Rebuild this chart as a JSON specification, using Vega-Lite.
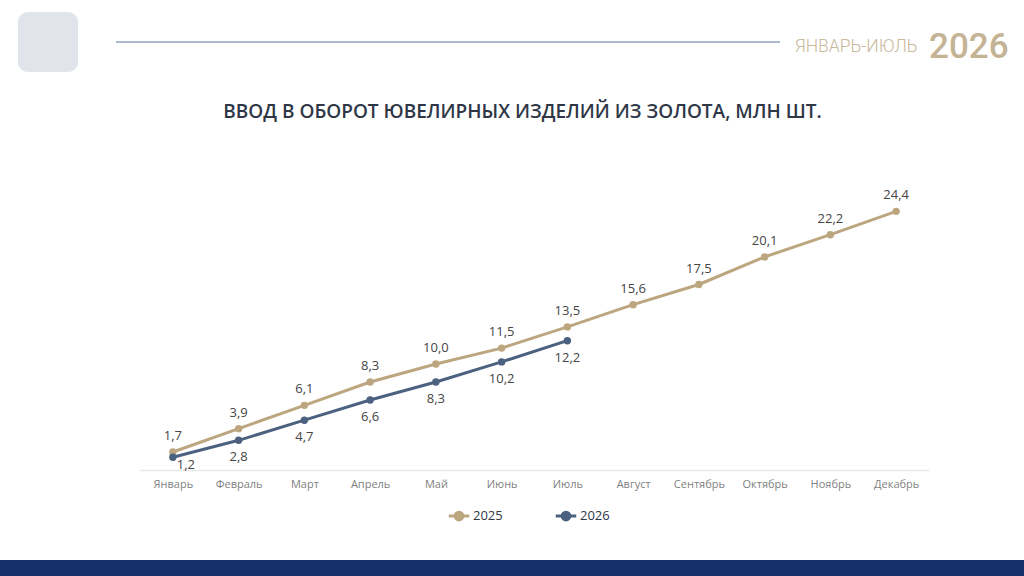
{
  "$schema": "https://vega.github.io/schema/vega-lite/v6.json",
  "autosize": {"type": "none"},
  "width": 789,
  "height": 265,
  "padding": {"left": 140, "top": 205, "right": 95, "bottom": 106},
  "background": "white",
  "title": {
    "text": "ВВОД В ОБОРОТ ЮВЕЛИРНЫХ ИЗДЕЛИЙ ИЗ ЗОЛОТА, МЛН ШТ.",
    "font": "Open Sans",
    "fontSize": 19,
    "fontWeight": 600,
    "color": "#2f3747",
    "anchor": "middle",
    "frame": "group",
    "offset": -110,
    "dx": -12
  },
  "data": {
    "values": [
      {"month": "Январь", "year": "2025", "value": 1.7},
      {"month": "Февраль", "year": "2025", "value": 3.9},
      {"month": "Март", "year": "2025", "value": 6.1},
      {"month": "Апрель", "year": "2025", "value": 8.3},
      {"month": "Май", "year": "2025", "value": 10.0},
      {"month": "Июнь", "year": "2025", "value": 11.5},
      {"month": "Июль", "year": "2025", "value": 13.5},
      {"month": "Август", "year": "2025", "value": 15.6},
      {"month": "Сентябрь", "year": "2025", "value": 17.5},
      {"month": "Октябрь", "year": "2025", "value": 20.1},
      {"month": "Ноябрь", "year": "2025", "value": 22.2},
      {"month": "Декабрь", "year": "2025", "value": 24.4},
      {"month": "Январь", "year": "2026", "value": 1.2},
      {"month": "Февраль", "year": "2026", "value": 2.8},
      {"month": "Март", "year": "2026", "value": 4.7},
      {"month": "Апрель", "year": "2026", "value": 6.6},
      {"month": "Май", "year": "2026", "value": 8.3},
      {"month": "Июнь", "year": "2026", "value": 10.2},
      {"month": "Июль", "year": "2026", "value": 12.2}
    ]
  },
  "encoding": {
    "x": {
      "field": "month",
      "type": "ordinal",
      "sort": ["Январь", "Февраль", "Март", "Апрель", "Май", "Июнь", "Июль", "Август", "Сентябрь", "Октябрь", "Ноябрь", "Декабрь"],
      "scale": {"type": "point", "padding": 0.5},
      "title": null,
      "axis": {
        "labelAngle": 0,
        "ticks": false,
        "domainColor": "#e8e8e8",
        "domainWidth": 1.5,
        "labelFont": "Open Sans",
        "labelFontSize": 11,
        "labelColor": "#7f7f7f",
        "labelPadding": 8
      }
    },
    "y": {
      "field": "value",
      "type": "quantitative",
      "scale": {"domain": [0, 25], "nice": false},
      "axis": null
    },
    "color": {
      "field": "year",
      "type": "nominal",
      "scale": {"domain": ["2025", "2026"], "range": ["#bca67f", "#4c617f"]},
      "legend": {
        "title": null,
        "orient": "none",
        "direction": "horizontal",
        "legendX": 307,
        "legendY": 299,
        "symbolType": "M -1 0 L 1 0 M -0.38 0 A 0.38 0.38 0 1 1 0.38 0 A 0.38 0.38 0 1 1 -0.38 0",
        "symbolSize": 420,
        "symbolStrokeWidth": 3,
        "labelFont": "Open Sans",
        "labelFontSize": 13,
        "labelColor": "#2f3747",
        "labelOffset": 2,
        "columnPadding": 46,
        "encode": {
          "symbols": {
            "update": {
              "fill": {"scale": "color", "field": "value"},
              "stroke": {"scale": "color", "field": "value"}
            }
          }
        }
      }
    }
  },
  "layer": [
    {
      "mark": {"type": "line", "strokeWidth": 3},
      "encoding": {}
    },
    {
      "mark": {"type": "circle", "size": 55, "opacity": 1},
      "encoding": {}
    },
    {
      "transform": [{"filter": "datum.year === '2025'"}],
      "mark": {"type": "text", "dy": -16, "font": "Open Sans", "fontSize": 13},
      "encoding": {
        "text": {"field": "value", "type": "quantitative", "format": ".1f"},
        "color": {"value": "#454545"}
      }
    },
    {
      "transform": [{"filter": "datum.year === '2026' && datum.month !== 'Январь'"}],
      "mark": {"type": "text", "dy": 17, "font": "Open Sans", "fontSize": 13},
      "encoding": {
        "text": {"field": "value", "type": "quantitative", "format": ".1f"},
        "color": {"value": "#454545"}
      }
    },
    {
      "transform": [{"filter": "datum.year === '2026' && datum.month === 'Январь'"}],
      "mark": {"type": "text", "dx": 13, "dy": 8, "font": "Open Sans", "fontSize": 13},
      "encoding": {
        "text": {"field": "value", "type": "quantitative", "format": ".1f"},
        "color": {"value": "#454545"}
      }
    },
    {
      "data": {"values": [{}]},
      "mark": {"type": "rect", "cornerRadius": 10},
      "encoding": {
        "x": {"value": -122}, "x2": {"value": -62},
        "y": {"value": -193}, "y2": {"value": -133},
        "color": {"value": "#e1e4ea"}
      }
    },
    {
      "data": {"values": [{}]},
      "mark": {"type": "rule", "strokeWidth": 1.2},
      "encoding": {
        "x": {"value": -24}, "x2": {"value": 640},
        "y": {"value": -163},
        "color": {"value": "#5a73a0"}
      }
    },
    {
      "data": {"values": [{}]},
      "mark": {"type": "text", "text": "ЯНВАРЬ-ИЮЛЬ", "font": "Roboto", "fontSize": 17.5, "fontWeight": 300, "align": "left", "baseline": "alphabetic"},
      "encoding": {
        "x": {"value": 655}, "y": {"value": -153},
        "color": {"value": "#c8b89c"}
      }
    },
    {
      "data": {"values": [{}]},
      "mark": {"type": "text", "text": "2026", "font": "Roboto", "fontSize": 35, "fontWeight": 500, "align": "left", "baseline": "alphabetic"},
      "encoding": {
        "x": {"value": 789}, "y": {"value": -147},
        "color": {"value": "#c4b394"}
      }
    },
    {
      "data": {"values": [{}]},
      "mark": {"type": "rect"},
      "encoding": {
        "x": {"value": -140}, "x2": {"value": 884},
        "y": {"value": 355}, "y2": {"value": 372},
        "color": {"value": "#16306b"}
      }
    }
  ],
  "config": {
    "view": {"stroke": null},
    "locale": {
      "number": {"decimal": ",", "thousands": " ", "grouping": [3], "currency": ["", ""]}
    }
  }
}
